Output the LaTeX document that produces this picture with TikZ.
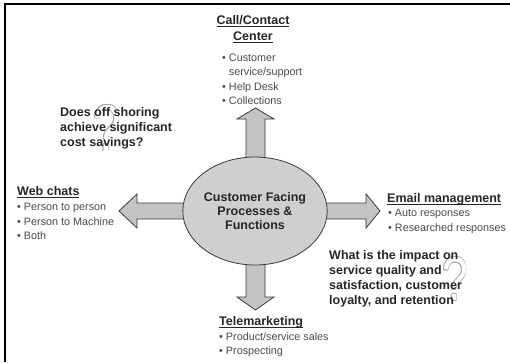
\documentclass[tikz,border=0pt]{standalone}
\usepackage{fontspec}
\setmainfont{Liberation Sans}
\usetikzlibrary{shapes.geometric}
\definecolor{hd}{HTML}{262626}
\definecolor{bl}{HTML}{4A4A4A}
\definecolor{afill}{HTML}{C4C4C4}
\definecolor{efill}{HTML}{CFCFCF}
\definecolor{edge}{HTML}{3A3A3A}
\definecolor{qm}{HTML}{A8A8A8}
\newcommand\myul[1]{\setbox0\hbox{#1}\rlap{\rule[-2.2pt]{\wd0}{0.9pt}}\box0}
\begin{document}
\begin{tikzpicture}[x=1pt,y=-1pt,
  heading/.style={font=\fontsize{12.5}{16}\selectfont\bfseries, text=hd, inner sep=0pt, anchor=north west},
  itemlist/.style={font=\fontsize{10.8}{14.5}\selectfont, text=bl, inner sep=0pt, align=left, anchor=north west},
  question/.style={font=\fontsize{12.5}{14.8}\selectfont\bfseries, text=hd, inner sep=0pt, align=left, anchor=north west},
  qmark/.style={inner sep=0pt, xscale=0.75},
  blockarrow/.style={fill=afill, draw=edge, line width=0.8pt, line join=miter},
  core/.style={ellipse, fill=efill, draw=edge, line width=0.8pt, minimum width=136pt, minimum height=108pt, inner sep=0pt,
    align=center, font=\fontsize{12.5}{14.3}\selectfont\bfseries, text=hd}]
\useasboundingbox (0,0) rectangle (510,362);
\fill[white] (0,0) rectangle (510,362);
\draw[line width=2pt] (5,362) -- (5,4) -- (510,4);

% outlined question marks behind text
\foreach \dx/\dy [count=\k] in {0.7/0,-0.7/0,0/0.7,0/-0.7,0.5/0.5,-0.5/0.5,0.5/-0.5,-0.5/-0.5}{
  \node[qmark, text=qm, font=\fontsize{66}{66}\selectfont] (q1o\k) at (107+\dx,128+\dy) {?};
  \node[qmark, text=qm, font=\fontsize{62}{62}\selectfont] (q2o\k) at (455+\dx,279+\dy) {?};
}
\node[qmark, text=white, font=\fontsize{66}{66}\selectfont] (q1mark) at (107,128) {?};
\node[qmark, text=white, font=\fontsize{62}{62}\selectfont] (q2mark) at (455,279) {?};

% block arrows
\draw[blockarrow] (246,162) -- (246,119) -- (237,119) -- (255.5,108) -- (274,119) -- (265,119) -- (265,162) -- cycle;
\draw[blockarrow] (192,203) -- (137,203) -- (137,194) -- (119,211) -- (137,228) -- (137,219) -- (192,219) -- cycle;
\draw[blockarrow] (318,203) -- (366,203) -- (366,194) -- (380,211) -- (366,228) -- (366,219) -- (318,219) -- cycle;
\draw[blockarrow] (246,260) -- (246,297) -- (237,297) -- (255.5,310) -- (274,297) -- (265,297) -- (265,260) -- cycle;

\node[core] (core) at (255,211) {Customer Facing\\Processes \&\\Functions};

% call center
\node[heading, anchor=north, align=center] (cch) at (253,15.5) {\myul{Call/Contact}\\\myul{Center}};
\node[itemlist] (ccl) at (222,53.5) {\textbullet\ Customer\\\phantom{\textbullet\ }service/support\\\textbullet\ Help Desk\\\textbullet\ Collections};

% web chats
\node[heading] (wch) at (17,186.5) {\myul{Web chats}};
\node[itemlist] (wcl) at (17,203) {\textbullet\ Person to person\\\textbullet\ Person to Machine\\\textbullet\ Both};

% email
\node[heading] (emh) at (387,193.5) {\myul{Email management}};
\node[itemlist] (eml) at (388,209) {\textbullet\ Auto responses\\\textbullet\ Researched responses};

% telemarketing
\node[heading] (tmh) at (219,316.5) {\myul{Telemarketing}};
\node[itemlist] (tml) at (219,332) {\textbullet\ Product/service sales\\\textbullet\ Prospecting};

% questions
\node[question] (q1) at (60,107.5) {Does off shoring\\achieve significant\\cost savings?};
\node[question] (q2) at (329,250.5) {What is the impact on\\service quality and\\satisfaction, customer\\loyalty, and retention};
\end{tikzpicture}
\end{document}
